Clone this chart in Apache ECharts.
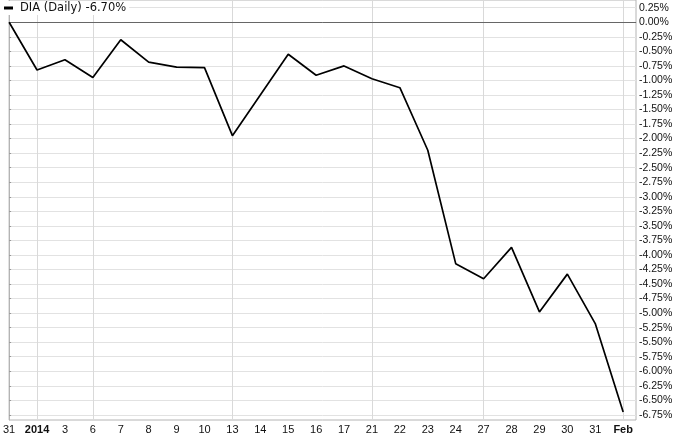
<!DOCTYPE html>
<html>
<head>
<meta charset="utf-8">
<script src="https://cdn.jsdelivr.net/npm/echarts@6/dist/echarts.min.js"></script>
<style>
  html, body { margin: 0; padding: 0; background: #fff; }
  #chart { width: 687px; height: 438px; }
</style>
</head>
<body>
<div id="chart"></div>
<script>
// trading days, Dec 31 2013 .. Feb 3 2014
var dates = ['31', '2014', '3', '6', '7', '8', '9', '10', '13', '14', '15', '16', '17',
  '21', '22', '23', '24', '27', '28', '29', '30', '31', 'Feb'];
// DIA change since Dec 31, percent
var pct = [0, -0.82, -0.645, -0.95, -0.30, -0.685, -0.77, -0.78, -1.95, -1.25, -0.55,
  -0.91, -0.75, -0.97, -1.125, -2.20, -4.15, -4.41, -3.87, -4.98, -4.33, -5.18, -6.70];
// right axis tick values
var yTicks = [0.25, 0, -0.25, -0.5, -0.75, -1, -1.25, -1.5, -1.75, -2, -2.25, -2.5, -2.75,
  -3, -3.25, -3.5, -3.75, -4, -4.25, -4.5, -4.75, -5, -5.25, -5.5, -5.75, -6, -6.25, -6.5, -6.75];
// labels drawn bold, and where vertical grid lines go
var boldLabels = ['2014', 'Feb'];
var vGridIdx = [1, 3, 8, 13, 17, 22];
var seriesName = 'DIA (Daily) -6.70%';

// x is the trading-day index so the axis can run a bit past the last day
var dayIdx = dates.map(function (d, i) { return i; });
var points = pct.map(function (v, i) { return [i, v]; });

var chart = echarts.init(document.getElementById('chart'));
chart.setOption({
  animation: false,
  backgroundColor: '#fff',
  grid: {
    left: 6, right: 51, top: 0, bottom: 18,
    show: true, borderColor: '#b4b4b4', borderWidth: 1
  },
  legend: {
    left: 1, top: 1,
    padding: [1, 3],
    backgroundColor: '#fff',
    icon: 'rect',
    itemWidth: 9, itemHeight: 3,
    itemGap: 4,
    textStyle: { fontFamily: 'DejaVu Sans', fontSize: 11.5, color: '#111', padding: [0, 0, 0, 2] },
    data: [seriesName]
  },
  xAxis: {
    type: 'value',
    min: 0,
    max: 22.46,
    axisLine: { show: true, lineStyle: { color: '#b4b4b4' } },
    axisTick: { show: false, customValues: vGridIdx },
    axisLabel: {
      customValues: dayIdx,
      margin: 4,
      fontFamily: 'Liberation Sans',
      fontSize: 11,
      color: '#111',
      formatter: function (v) {
        var s = dates[Math.round(v)];
        return boldLabels.indexOf(s) >= 0 ? '{b|' + s + '}' : s;
      },
      rich: { b: { fontWeight: 'bold', fontSize: 11, fontFamily: 'Liberation Sans', color: '#111' } }
    },
    splitLine: {
      show: true,
      customValues: vGridIdx,
      lineStyle: { color: '#d9d9d9', width: 1 }
    }
  },
  yAxis: {
    type: 'value',
    position: 'right',
    min: -6.838,
    max: 0.383,
    axisLine: { show: true, lineStyle: { color: '#b4b4b4' } },
    axisTick: { show: true, length: 2, customValues: yTicks, lineStyle: { color: '#999' } },
    axisLabel: {
      customValues: yTicks,
      margin: 3,
      fontFamily: 'Liberation Sans',
      fontSize: 10.5,
      color: '#111',
      formatter: function (v) { return v.toFixed(2) + '%'; }
    },
    splitLine: { show: true, customValues: yTicks, lineStyle: { color: '#e2e2e2', width: 1 } }
  },
  series: [{
    name: seriesName,
    type: 'line',
    data: points,
    showSymbol: false,
    itemStyle: { color: '#000' },
    lineStyle: { color: '#000', width: 1.7 },
    markLine: {
      silent: true,
      symbol: 'none',
      label: { show: false },
      lineStyle: { color: '#666', type: 'solid', width: 1 },
      data: [{ yAxis: 0 }]
    },
    z: 5
  }]
});
</script>
</body>
</html>
